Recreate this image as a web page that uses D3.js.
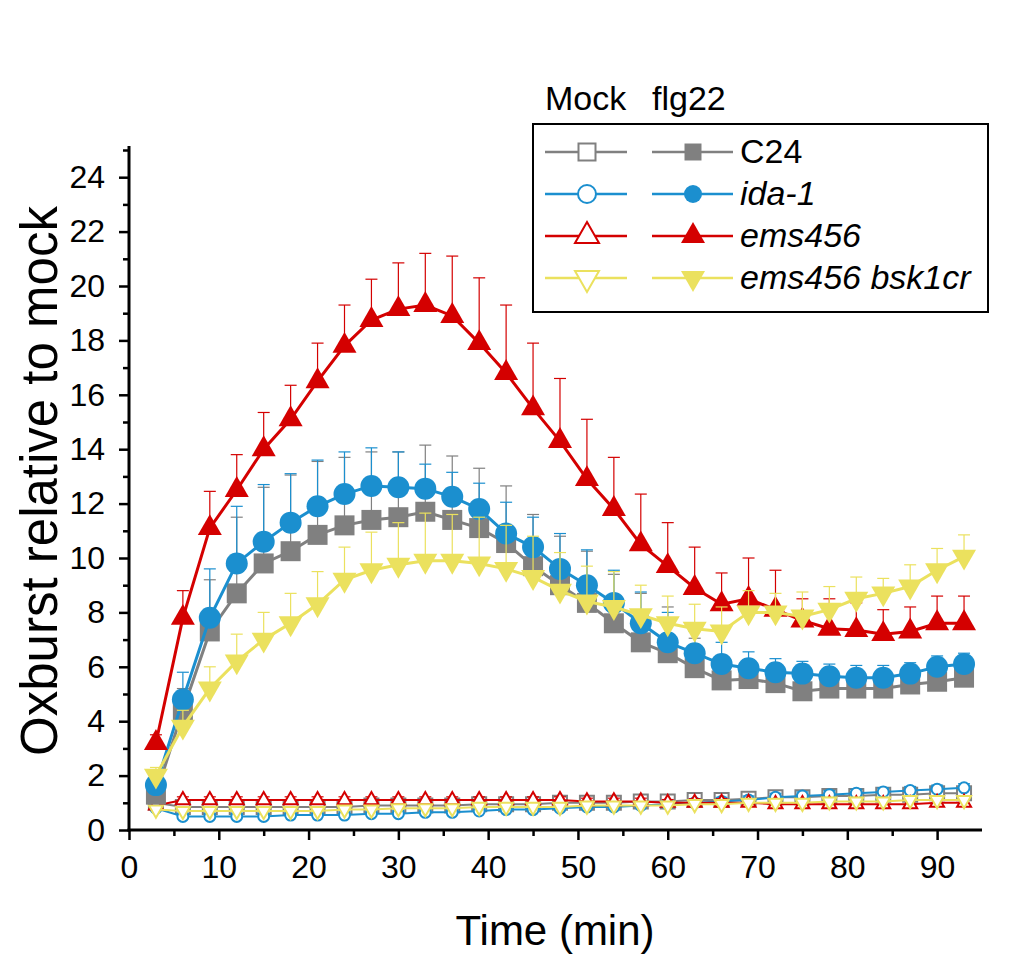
<!DOCTYPE html>
<html>
<head>
<meta charset="utf-8">
<script src="https://cdn.jsdelivr.net/npm/d3@7"></script>
<style>
  body { margin: 0; background: #fff; }
  text { font-family: "Liberation Sans", Arial, sans-serif; fill: #000; }
</style>
</head>
<body>
<svg id="chart" width="1035" height="957"></svg>
<script>
// sampling times (min)
const time = [3, 6, 9, 12, 15, 18, 21, 24, 27, 30, 33, 36, 39, 42, 45, 48, 51, 54, 57, 60, 63, 66, 69, 72, 75, 78, 81, 84, 87, 90, 93];

// flg22 treated
const c24Flg = [1.3, 4.4, 7.3, 8.7, 9.8, 10.25, 10.85, 11.2, 11.4, 11.5, 11.7, 11.4, 11.1, 10.55, 9.7, 9.0, 8.35, 7.6, 6.9, 6.5, 5.95, 5.5, 5.55, 5.4, 5.1, 5.2, 5.2, 5.2, 5.35, 5.45, 5.6];
const c24FlgErr = [0.3, 0.8, 1.9, 2.8, 2.8, 2.8, 2.7, 2.5, 2.5, 2.4, 2.45, 2.35, 2.2, 2.1, 1.9, 1.8, 1.9, 1.8, 1.8, 1.7, 1.1, 0.9, 0.7, 0.6, 0.6, 0.6, 0.6, 0.6, 0.5, 0.5, 0.5];
const idaFlg = [1.65, 4.8, 7.8, 9.8, 10.6, 11.3, 11.9, 12.35, 12.65, 12.6, 12.55, 12.25, 11.8, 10.9, 10.4, 9.6, 9.0, 8.35, 7.6, 6.9, 6.5, 6.1, 5.95, 5.8, 5.75, 5.65, 5.6, 5.6, 5.75, 6.0, 6.1];
const idaFlgErr = [0.4, 1.0, 1.8, 2.1, 2.1, 1.8, 1.7, 1.55, 1.4, 1.3, 0.9, 0.9, 0.95, 1.15, 1.1, 1.3, 1.3, 1.2, 1.15, 1.1, 0.8, 0.8, 0.6, 0.5, 0.45, 0.45, 0.45, 0.45, 0.4, 0.4, 0.4];
const emsFlg = [3.2, 7.8, 11.1, 12.5, 14.0, 15.1, 16.5, 17.8, 18.75, 19.15, 19.3, 18.9, 17.9, 16.8, 15.5, 14.3, 12.9, 11.8, 10.5, 9.7, 8.9, 8.3, 8.5, 8.1, 7.7, 7.4, 7.35, 7.2, 7.3, 7.6, 7.6];
const emsFlgErr = [0.3, 1.0, 1.35, 1.3, 1.35, 1.25, 1.4, 1.5, 1.5, 1.7, 1.9, 2.2, 2.4, 2.5, 2.4, 2.3, 2.2, 1.9, 1.85, 1.6, 1.5, 1.15, 1.5, 1.45, 0.8, 1.1, 1.0, 0.9, 0.9, 1.0, 1.0];
const bskFlg = [2.0, 3.8, 5.2, 6.2, 7.0, 7.6, 8.3, 9.2, 9.55, 9.75, 9.9, 9.9, 9.8, 9.6, 9.3, 8.8, 8.4, 8.2, 7.9, 7.6, 7.4, 7.3, 8.0, 8.0, 7.85, 8.1, 8.5, 8.7, 8.95, 9.55, 10.05];
const bskFlgErr = [0.3, 0.6, 0.8, 1.0, 1.0, 1.1, 1.2, 1.2, 1.4, 1.55, 1.75, 1.7, 1.7, 1.6, 1.5, 1.4, 1.3, 1.3, 1.1, 1.0, 0.9, 0.9, 0.8, 0.7, 0.9, 0.85, 0.8, 0.55, 0.8, 0.8, 0.8];

// mock treated
const c24Mock = [1.0, 0.85, 0.85, 0.85, 0.85, 0.85, 0.85, 0.85, 0.9, 0.9, 0.9, 0.9, 0.95, 0.95, 0.95, 1.0, 1.0, 1.0, 1.05, 1.05, 1.1, 1.1, 1.15, 1.2, 1.2, 1.25, 1.25, 1.3, 1.3, 1.35, 1.35];
const idaMock = [0.8, 0.5, 0.5, 0.5, 0.5, 0.55, 0.55, 0.55, 0.6, 0.6, 0.65, 0.65, 0.7, 0.75, 0.75, 0.8, 0.85, 0.85, 0.9, 0.95, 1.0, 1.05, 1.1, 1.2, 1.25, 1.3, 1.35, 1.4, 1.45, 1.5, 1.55];
const emsMock = [0.9, 1.1, 1.1, 1.1, 1.1, 1.1, 1.1, 1.1, 1.1, 1.1, 1.1, 1.1, 1.1, 1.1, 1.1, 1.1, 1.05, 1.05, 1.05, 1.0, 1.0, 1.0, 1.0, 0.95, 0.95, 0.95, 0.95, 0.95, 0.95, 1.0, 1.0];
const bskMock = [0.75, 0.7, 0.7, 0.7, 0.7, 0.7, 0.7, 0.75, 0.75, 0.8, 0.8, 0.8, 0.85, 0.85, 0.85, 0.85, 0.9, 0.9, 0.9, 0.9, 0.95, 0.95, 1.0, 1.0, 1.0, 1.05, 1.05, 1.05, 1.1, 1.1, 1.1];
const mockErr = [0.15, 0.12, 0.12, 0.12, 0.12, 0.12, 0.12, 0.12, 0.12, 0.12, 0.12, 0.12, 0.12, 0.12, 0.12, 0.12, 0.12, 0.12, 0.12, 0.12, 0.15, 0.15, 0.15, 0.15, 0.15, 0.15, 0.15, 0.15, 0.15, 0.15, 0.15];

const genotypes = ["C24", "ida-1", "ems456", "ems456 bsk1cr"];
const xTicks = [0, 10, 20, 30, 40, 50, 60, 70, 80, 90];
const yTicks = [0, 2, 4, 6, 8, 10, 12, 14, 16, 18, 20, 22, 24];

const colors = ["#808080", "#1b8fcf", "#d40000", "#ebe15e"];
const shapes = ["square", "circle", "triUp", "triDown"];

const flgSeries = [
  { name: genotypes[0], v: c24Flg, e: c24FlgErr },
  { name: genotypes[1], v: idaFlg, e: idaFlgErr },
  { name: genotypes[2], v: emsFlg, e: emsFlgErr },
  { name: genotypes[3], v: bskFlg, e: bskFlgErr }
];
const mockSeries = [
  { name: genotypes[0], v: c24Mock, e: mockErr },
  { name: genotypes[1], v: idaMock, e: mockErr },
  { name: genotypes[2], v: emsMock, e: mockErr },
  { name: genotypes[3], v: bskMock, e: mockErr }
];

const svg = d3.select("#chart");
const pLeft = 129, pRight = 982, pTop = 150, pBottom = 830;

const x = d3.scaleLinear().domain([0, 95]).range([pLeft, pRight]);
const y = d3.scaleLinear().domain([0, 25]).range([pBottom, pTop]);

// marker path centred at 0,0, s = approx width
function markerPath(shape, s) {
  if (shape === "square") return `M${-s/2},${-s/2}H${s/2}V${s/2}H${-s/2}Z`;
  if (shape === "circle") { const r = s / 2; return `M${r},0A${r},${r} 0 1,1 ${-r},0A${r},${r} 0 1,1 ${r},0Z`; }
  const h = s * 0.87;
  if (shape === "triUp") return `M0,${-h*2/3}L${s/2},${h/3}L${-s/2},${h/3}Z`;
  return `M0,${h*2/3}L${s/2},${-h/3}L${-s/2},${-h/3}Z`;
}

function drawSeries(g, ser, i, filled) {
  const col = colors[i];
  const pts = time.map((t, k) => ({ t: t, v: ser.v[k], e: ser.e[k] }));
  const sg = g.append("g");
  // error bars (upper only)
  const eb = sg.selectAll(".eb").data(pts).enter().append("g");
  eb.append("line")
    .attr("x1", d => x(d.t)).attr("x2", d => x(d.t))
    .attr("y1", d => y(d.v)).attr("y2", d => y(d.v + d.e))
    .attr("stroke", col).attr("stroke-width", 1.2);
  eb.append("line")
    .attr("x1", d => x(d.t) - 6).attr("x2", d => x(d.t) + 6)
    .attr("y1", d => y(d.v + d.e)).attr("y2", d => y(d.v + d.e))
    .attr("stroke", col).attr("stroke-width", 1.2);
  // line
  sg.append("path").datum(pts)
    .attr("fill", "none").attr("stroke", col)
    .attr("stroke-width", filled ? 3 : 2)
    .attr("d", d3.line().x(d => x(d.t)).y(d => y(d.v)));
  // markers
  const size = filled ? (shapes[i] === "circle" ? 22 : shapes[i] === "square" ? 20 : 24) : (shapes[i] === "circle" ? 11 : 14);
  sg.selectAll(".m").data(pts).enter().append("path")
    .attr("transform", d => `translate(${x(d.t)},${y(d.v)})`)
    .attr("d", markerPath(shapes[i], size))
    .attr("fill", filled ? col : "#fff")
    .attr("stroke", col).attr("stroke-width", filled ? 0 : 2);
}

const plot = svg.append("g");
mockSeries.forEach((s, i) => drawSeries(plot, s, i, false));
flgSeries.forEach((s, i) => drawSeries(plot, s, i, true));

// axes
const xAxis = svg.append("g").attr("transform", `translate(0,${pBottom})`)
  .call(d3.axisBottom(x).tickValues(xTicks).tickSize(10).tickSizeOuter(0).tickPadding(15));
svg.append("g").attr("transform", `translate(0,${pBottom})`)
  .call(d3.axisBottom(x).tickValues([5, 15, 25, 35, 45, 55, 65, 75, 85]).tickSize(6).tickSizeOuter(0).tickFormat(""))
  .select(".domain").remove();
const yAxis = svg.append("g").attr("transform", `translate(${pLeft},0)`)
  .call(d3.axisLeft(y).tickValues(yTicks).tickSize(10).tickSizeOuter(0).tickPadding(14));
svg.append("g").attr("transform", `translate(${pLeft},0)`)
  .call(d3.axisLeft(y).tickValues([1, 3, 5, 7, 9, 11, 13, 15, 17, 19, 21, 23, 25]).tickSize(6).tickSizeOuter(0).tickFormat(""))
  .select(".domain").remove();
svg.selectAll(".domain").attr("stroke-width", 3).attr("stroke", "#000");
svg.selectAll(".tick line").attr("stroke-width", 2.5).attr("stroke", "#000");
svg.selectAll(".tick text").attr("font-size", 32).attr("font-family", "Liberation Sans, Arial, sans-serif").attr("fill", "#000");
yAxis.select(".domain").attr("d", `M0,${pBottom + 1.5}V${pTop - 4}`);
xAxis.select(".domain").attr("d", `M${pLeft - 1.5},0H${pRight}`);

// axis titles
svg.append("text")
  .attr("transform", `translate(57,481) rotate(-90)`)
  .attr("text-anchor", "middle").attr("font-size", 51)
  .text("Oxburst relative to mock");
svg.append("text")
  .attr("x", 555).attr("y", 945).attr("text-anchor", "middle").attr("font-size", 42)
  .text("Time (min)");

// legend
const lg = svg.append("g");
lg.append("rect").attr("x", 533).attr("y", 124).attr("width", 455).attr("height", 188)
  .attr("fill", "#fff").attr("stroke", "#000").attr("stroke-width", 2);
lg.append("text").attr("x", 545).attr("y", 110).attr("font-size", 34).text("Mock");
lg.append("text").attr("x", 652).attr("y", 110).attr("font-size", 34).text("flg22");
const rowY = d3.scaleLinear().domain([0, 3]).range([152, 278]);
genotypes.forEach((name, i) => {
  const yy = rowY(i);
  const col = colors[i];
  [[545, 627, 587, false], [652, 733, 693, true]].forEach(([x1, x2, xm, filled]) => {
    lg.append("line").attr("x1", x1).attr("x2", x2).attr("y1", yy).attr("y2", yy)
      .attr("stroke", col).attr("stroke-width", 2.5);
    const sz = shapes[i] === "circle" ? 18 : shapes[i] === "square" ? 17 : 24;
    lg.append("path").attr("transform", `translate(${xm},${yy})`)
      .attr("d", markerPath(shapes[i], sz))
      .attr("fill", filled ? col : "#fff")
      .attr("stroke", col).attr("stroke-width", filled ? 0 : 2);
  });
  lg.append("text").attr("x", 740).attr("y", yy + 11).attr("font-size", 34)
    .attr("font-style", i === 0 ? "normal" : "italic").text(name);
});
</script>
</body>
</html>
